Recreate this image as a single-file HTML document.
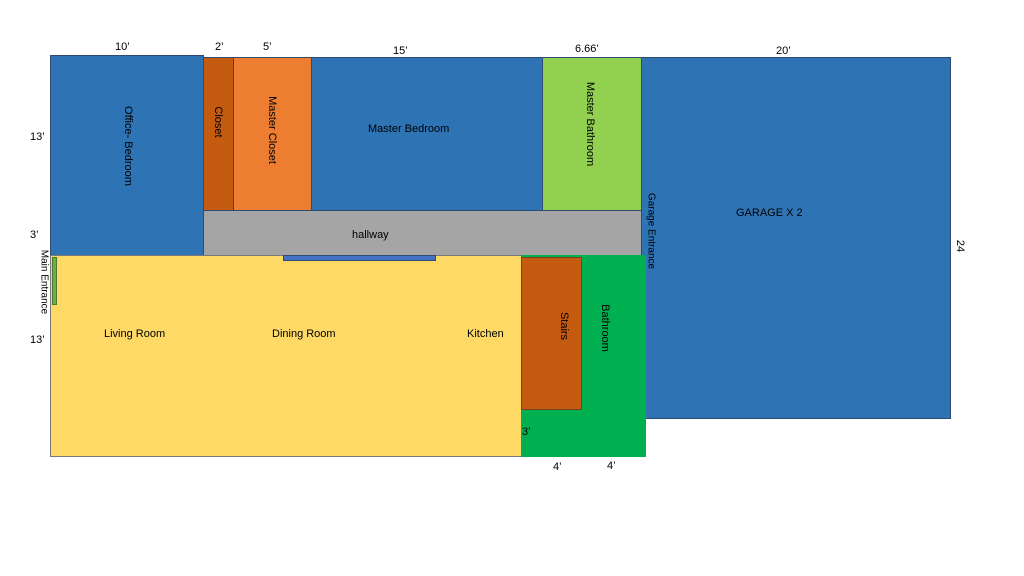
<!DOCTYPE html>
<html><head><style>
body{margin:0;width:1024px;height:576px;background:#fff;position:relative;overflow:hidden;font-family:"Liberation Sans",sans-serif;font-size:11px;color:#000}
.r{position:absolute;box-sizing:border-box;border:1px solid #2f4b72}
.t{position:absolute;white-space:nowrap;margin-top:2px}
.v{position:absolute;white-space:nowrap;transform:translate(-50%,-50%) rotate(90deg)}
</style></head><body>
<div class="r" style="left:50px;top:55px;width:154px;height:201px;background:#2e74b5"></div>
<div class="r" style="left:203px;top:57px;width:31px;height:154px;background:#c55a11"></div>
<div class="r" style="left:233px;top:57px;width:79px;height:154px;background:#ed7d31"></div>
<div class="r" style="left:311px;top:57px;width:232px;height:154px;background:#2e74b5"></div>
<div class="r" style="left:542px;top:57px;width:100px;height:154px;background:#92d050"></div>
<div class="r" style="left:203px;top:210px;width:439px;height:46px;background:#a5a5a5"></div>
<div class="r" style="left:641px;top:57px;width:310px;height:362px;background:#2e74b5"></div>
<div class="r" style="left:50px;top:255px;width:472px;height:202px;background:#ffd966;border-color:#7a7a7a"></div>
<div class="r" style="left:283px;top:255px;width:153px;height:6px;background:#4472c4"></div>
<div class="r" style="left:52px;top:257px;width:5px;height:48px;background:#70ad47;border-color:#4a7a30"></div>
<div style="position:absolute;left:521px;top:255px;width:125px;height:202px;background:#00b050"></div>
<div class="r" style="left:521px;top:257px;width:61px;height:153px;background:#c55a11;border-color:#7a4020"></div>
<div class="t" style="left:115px;top:39px">10’</div>
<div class="t" style="left:215px;top:39px">2’</div>
<div class="t" style="left:263px;top:39px">5’</div>
<div class="t" style="left:393px;top:43px">15’</div>
<div class="t" style="left:575px;top:41px">6.66’</div>
<div class="t" style="left:776px;top:43px">20’</div>
<div class="t" style="left:30px;top:129px">13’</div>
<div class="t" style="left:30px;top:227px">3’</div>
<div class="t" style="left:30px;top:332px">13’</div>
<div class="t" style="left:522px;top:424px">3’</div>
<div class="t" style="left:553px;top:459px">4’</div>
<div class="t" style="left:607px;top:458px">4’</div>
<div class="v" style="left:960px;top:246px">24</div>
<div class="v" style="left:128px;top:146px">Office- Bedroom</div>
<div class="v" style="left:218px;top:122px">Closet</div>
<div class="v" style="left:272px;top:130px">Master Closet</div>
<div class="t" style="left:368px;top:121px">Master Bedroom</div>
<div class="v" style="left:590px;top:124px">Master Bathroom</div>
<div class="t" style="left:352px;top:227px">hallway</div>
<div class="t" style="left:736px;top:205px">GARAGE X 2</div>
<div class="v" style="left:651px;top:231px;font-size:10px">Garage Entrance</div>
<div class="v" style="left:44px;top:282px;font-size:10px">Main Entrance</div>
<div class="t" style="left:104px;top:326px">Living Room</div>
<div class="t" style="left:272px;top:326px">Dining Room</div>
<div class="t" style="left:467px;top:326px">Kitchen</div>
<div class="v" style="left:564px;top:326px">Stairs</div>
<div class="v" style="left:605px;top:328px">Bathroom</div>
</body></html>
